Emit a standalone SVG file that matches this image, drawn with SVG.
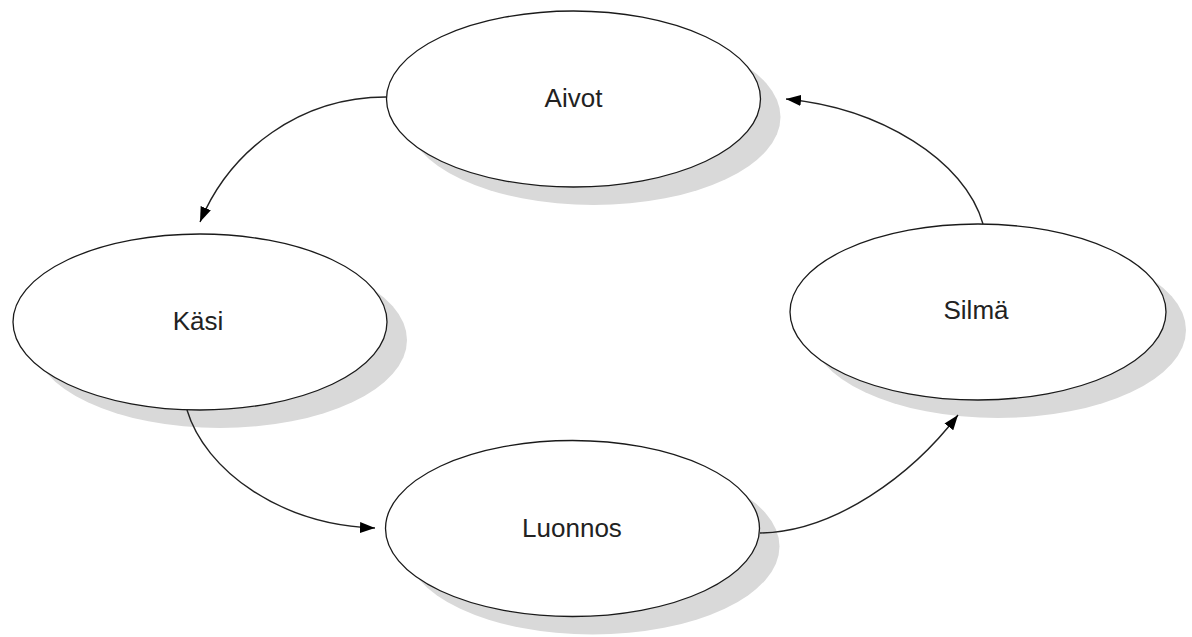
<svg xmlns="http://www.w3.org/2000/svg" width="1192" height="637" viewBox="0 0 1192 637">
  <style>
    .shadow { fill: #d9d9d9; stroke: none; }
    .node { fill: #ffffff; stroke: #1a1a1a; stroke-width: 1.3; }
    .label { font-family: "Liberation Sans", Arial, sans-serif; font-size: 26px; fill: #222222; text-anchor: middle; }
    .edge { fill: none; stroke: #222222; stroke-width: 1.4; marker-end: url(#arrow); }
  </style>
  <defs>
    <marker id="arrow" markerUnits="userSpaceOnUse" markerWidth="16" markerHeight="12" viewBox="0 0 16 12" refX="15" refY="6" orient="auto">
      <path d="M0,0.5 L15,6 L0,11.5 z" fill="#000000"/>
    </marker>
  </defs>
  <rect width="1192" height="637" fill="#ffffff"/>

  <g id="node-aivot">
    <ellipse class="shadow" cx="593.5" cy="117" rx="187" ry="88"/>
    <ellipse class="node" cx="573.5" cy="99" rx="187" ry="88"/>
    <text class="label" x="573.5" y="107">Aivot</text>
  </g>

  <g id="node-kasi">
    <ellipse class="shadow" cx="220" cy="340" rx="187" ry="88"/>
    <ellipse class="node" cx="200" cy="322" rx="187" ry="88"/>
    <text class="label" x="198" y="330">Käsi</text>
  </g>

  <g id="node-luonnos">
    <ellipse class="shadow" cx="592.5" cy="546.5" rx="187" ry="88"/>
    <ellipse class="node" cx="572.5" cy="528.5" rx="187" ry="88"/>
    <text class="label" x="572" y="537">Luonnos</text>
  </g>

  <g id="node-silma">
    <ellipse class="shadow" cx="998" cy="330" rx="188" ry="88"/>
    <ellipse class="node" cx="978" cy="312" rx="188" ry="88"/>
    <text class="label" x="976" y="319">Silmä</text>
  </g>

  <g id="connectors">
    <path class="edge" d="M386,97 C300,97 230,150 200,222"/>
    <path class="edge" d="M187,410 C205,470 280,525 375,528"/>
    <path class="edge" d="M760,533 C835,532 912,475 958,415"/>
    <path class="edge" d="M983,224 C965,160 880,108 786,99"/>
  </g>
</svg>
